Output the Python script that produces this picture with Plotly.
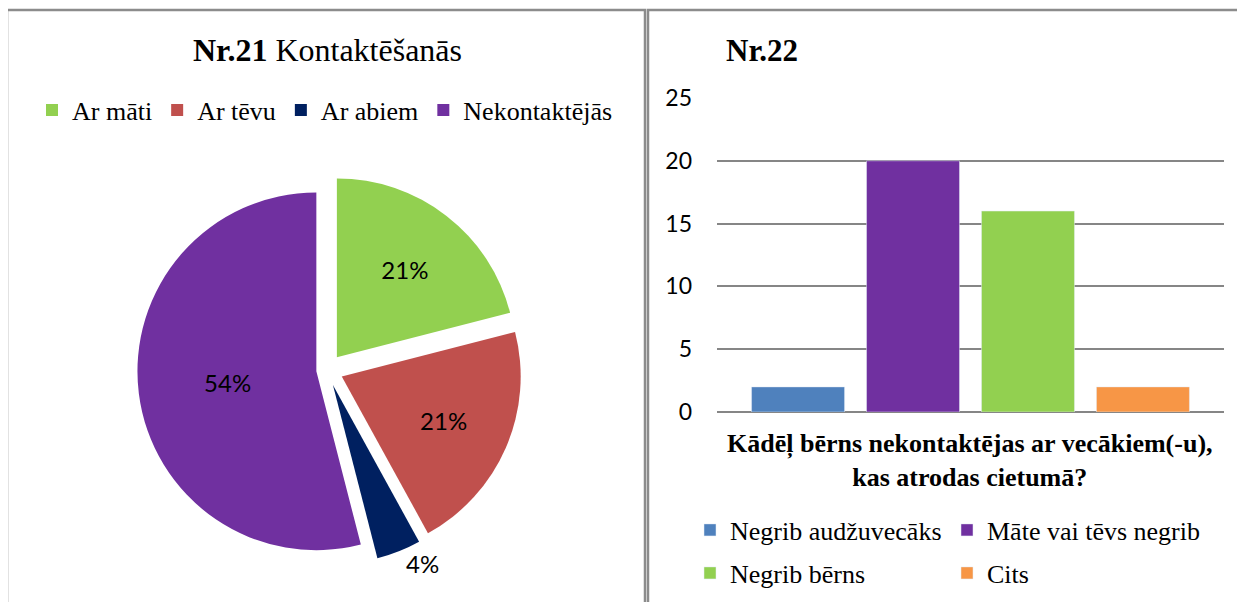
import plotly.graph_objects as go

# ---- data ----
contact_labels = ["Ar māti", "Ar tēvu", "Ar abiem", "Nekontaktējās"]
contact_shares = [21, 21, 4, 54]
contact_colors = ["#92D050", "#C0504D", "#002060", "#7030A0"]
contact_pull = [0.09, 0.09, 0.09, 0.06]
contact_textpos = ["inside", "inside", "outside", "inside"]

reason_labels = ["Negrib audžuvecāks", "Māte vai tēvs negrib", "Negrib bērns", "Cits"]
reason_counts = [2, 20, 16, 2]
reason_colors = ["#4F81BD", "#7030A0", "#92D050", "#F79646"]
reason_legends = ["legend2", "legend2", "legend3", "legend3"]
question = "Kādēļ bērns nekontaktējas ar vecākiem(-u),<br>kas atrodas cietumā?"
y_ticks = [0, 5, 10, 15, 20, 25]

OFF = 8  # default page body margin
W, H = 1245 - OFF, 602 - OFF
SERIF = "Liberation Serif, Times New Roman, serif"
SANS = "Lato, Carlito, Calibri, sans-serif"


def px(x):
    return (x - OFF) / W


def py(y):
    return 1 - (y - OFF) / H


fig = go.Figure()

fig.add_trace(go.Pie(
    labels=contact_labels, values=contact_shares, sort=False,
    direction="clockwise", rotation=0,
    marker=dict(colors=contact_colors),
    pull=contact_pull,
    texttemplate="%{value}%", textposition=contact_textpos,
    insidetextorientation="horizontal",
    textfont=dict(family=SANS, size=24, color="#000000"),
    domain=dict(x=[px(327 - 200), px(327 + 200)], y=[py(370 + 195), py(370 - 195)]),
    legend="legend", showlegend=True, hoverinfo="label+percent",
))

for lab, val, col, lg in zip(reason_labels, reason_counts, reason_colors, reason_legends):
    fig.add_trace(go.Bar(
        x=[question], y=[val], name=lab, marker=dict(color=col),
        legend=lg, xaxis="x", yaxis="y",
    ))

fig.update_layout(
    width=W, height=H,
    margin=dict(l=0, r=0, t=0, b=0, autoexpand=False),
    paper_bgcolor="white", plot_bgcolor="white",
    barmode="group", bargap=0.093, bargroupgap=0.191,
    xaxis=dict(domain=[px(717), px(1224)], showticklabels=False, showgrid=False,
               zeroline=False, showline=False, ticks=""),
    yaxis=dict(domain=[py(412), py(98)], range=[0, 25], tickvals=y_ticks,
               showgrid=True, gridcolor="#868686", gridwidth=1.5,
               zeroline=True, zerolinecolor="#868686", zerolinewidth=1.5,
               showline=False, ticks="", ticklabelstandoff=24,
               tickfont=dict(family=SANS, size=23, color="#000000")),
    legend=dict(orientation="h", x=px(325), xanchor="center", y=py(110), yanchor="middle",
                font=dict(family=SERIF, size=26, color="#000000"), bgcolor="rgba(0,0,0,0)",
                itemclick=False, tracegroupgap=0),
    legend2=dict(orientation="h", x=px(690), xanchor="left", y=py(530), yanchor="middle",
                 font=dict(family=SERIF, size=26, color="#000000"), bgcolor="rgba(0,0,0,0)",
                 entrywidth=212, entrywidthmode="pixels"),
    legend3=dict(orientation="h", x=px(690), xanchor="left", y=py(573), yanchor="middle",
                 font=dict(family=SERIF, size=26, color="#000000"), bgcolor="rgba(0,0,0,0)",
                 entrywidth=212, entrywidthmode="pixels"),
    annotations=[
        dict(text="<b>Nr.21</b> Kontaktēšanās", x=px(327), y=py(50), xref="paper", yref="paper",
             xanchor="center", yanchor="middle", showarrow=False,
             font=dict(family=SERIF, size=32, color="#000000")),
        dict(text="<b>Nr.22</b>", x=px(724), y=py(50), xref="paper", yref="paper",
             xanchor="left", yanchor="middle", showarrow=False,
             font=dict(family=SERIF, size=31, color="#000000")),
        dict(text="<b>" + question.replace("<br>", "</b><br><b>") + "</b>", x=px(970), y=py(460),
             xref="paper", yref="paper", xanchor="center", yanchor="middle", showarrow=False,
             font=dict(family=SERIF, size=26, color="#000000")),
    ],
    shapes=[
        dict(type="rect", xref="paper", yref="paper", x0=px(7), x1=px(645), y0=-0.05, y1=py(10),
             line=dict(color="#8C8C8C", width=2.5)),
        dict(type="rect", xref="paper", yref="paper", x0=px(648), x1=1.05, y0=-0.05, y1=py(10),
             line=dict(color="#8C8C8C", width=2.5)),
    ],
)

fig.write_html("out.html")
